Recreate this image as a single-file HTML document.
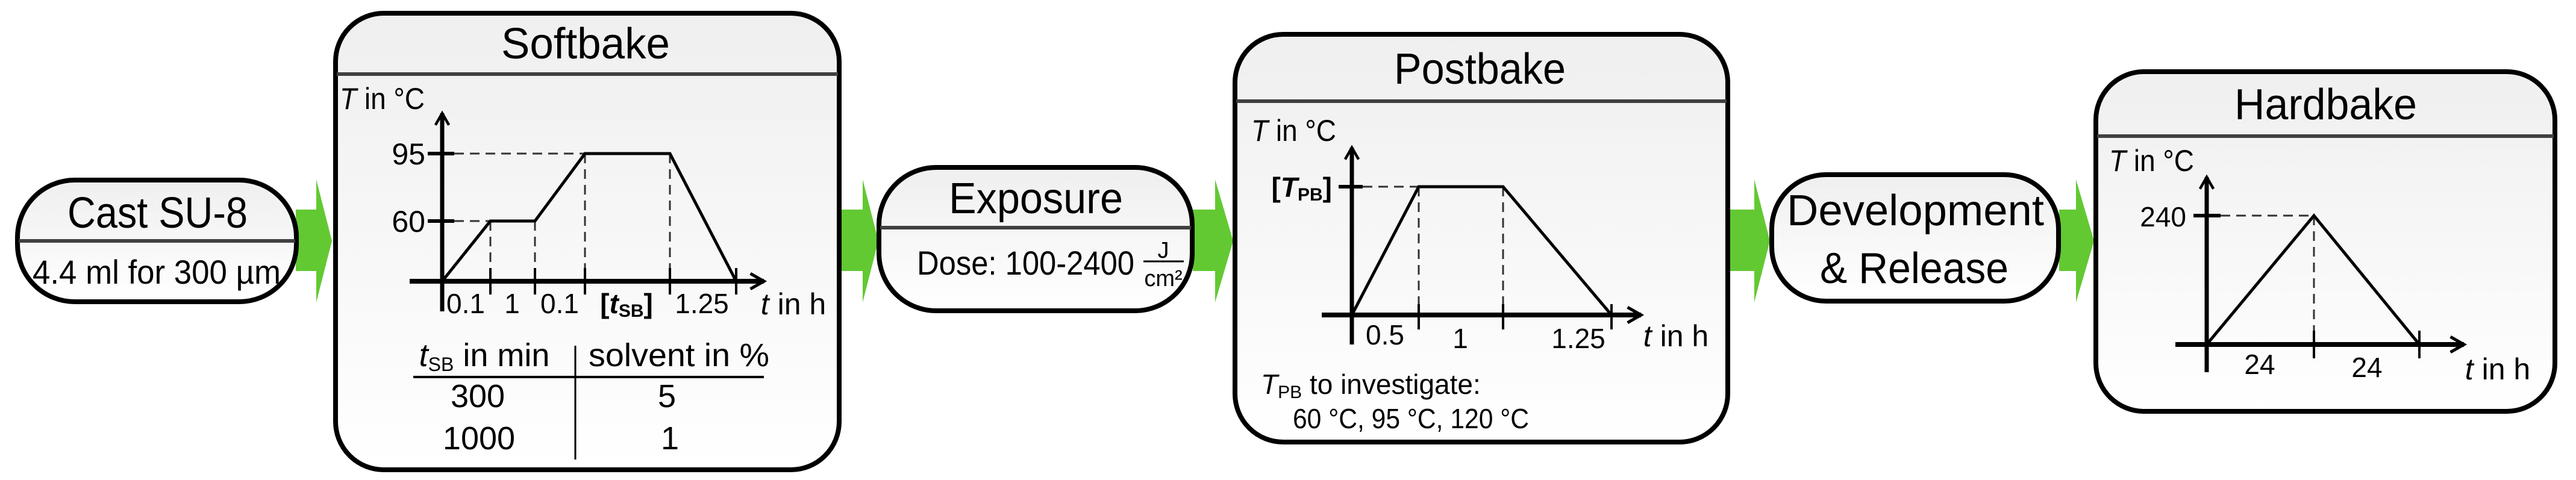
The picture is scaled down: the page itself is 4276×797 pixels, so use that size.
<!DOCTYPE html>
<html><head><meta charset="utf-8"><style>
html,body{margin:0;padding:0;background:#fff;}
svg{display:block;}
text{font-family:"Liberation Sans",sans-serif;fill:#000;}
</style></head><body>
<svg width="4276" height="797" viewBox="0 0 4276 797" xmlns="http://www.w3.org/2000/svg">
<defs>
<linearGradient id="g" x1="0" y1="0" x2="0" y2="1"><stop offset="0" stop-color="#efefef"/><stop offset="1" stop-color="#ffffff"/></linearGradient>
<marker id="ah" viewBox="0 0 10 10" refX="8" refY="5" markerWidth="4" markerHeight="4" orient="auto" markerUnits="strokeWidth"><path d="M1,1 L8,5 L1,9" fill="none" stroke="#000" stroke-width="1.6"/></marker>
</defs>
<g fill="#62c932">
<path d="M491,348 H525 V298 L551,400 L525,502 V450 H491Z"/>
<path d="M1390,348 H1432 V298 L1458,400 L1432,502 V450 H1390Z"/>
<path d="M1980,348 H2017 V298 L2047,400 L2017,502 V450 H1980Z"/>
<path d="M2868,348 H2912 V298 L2938,400 L2912,502 V450 H2868Z"/>
<path d="M3418,348 H3446 V298 L3476,400 L3446,502 V450 H3418Z"/>
</g>
<g stroke="#000" stroke-width="8" fill="url(#g)">
<rect x="29" y="299" width="463" height="202" rx="95" ry="95"/>
<rect x="557" y="22" width="836" height="758" rx="80" ry="80"/>
<rect x="1459" y="278" width="520" height="238" rx="95" ry="95"/>
<rect x="2050" y="57" width="818" height="677" rx="80" ry="80"/>
<rect x="2941" y="290" width="476" height="210" rx="90" ry="90"/>
<rect x="3479" y="119" width="762" height="564" rx="80" ry="80"/>
</g>
<g stroke="#404040" stroke-width="6">
<line x1="31" y1="400" x2="490" y2="400"/>
<line x1="559" y1="123" x2="1391" y2="123"/>
<line x1="1461" y1="378" x2="1977" y2="378"/>
<line x1="2052" y1="168" x2="2866" y2="168"/>
<line x1="3481" y1="226" x2="4239" y2="226"/>
</g>
<!-- titles -->
<g font-size="72" text-anchor="start">
<text x="112" y="378" textLength="299" lengthAdjust="spacingAndGlyphs">Cast SU-8</text>
<text x="832" y="97" textLength="280" lengthAdjust="spacingAndGlyphs">Softbake</text>
<text x="1575" y="354" textLength="289" lengthAdjust="spacingAndGlyphs">Exposure</text>
<text x="2314" y="139" textLength="285" lengthAdjust="spacingAndGlyphs">Postbake</text>
<text x="2966" y="374" textLength="427" lengthAdjust="spacingAndGlyphs">Development</text>
<text x="3021" y="470" textLength="313" lengthAdjust="spacingAndGlyphs">&amp; Release</text>
<text x="3709" y="198" textLength="303" lengthAdjust="spacingAndGlyphs">Hardbake</text>
</g>
<text x="54" y="471" font-size="56" textLength="412" lengthAdjust="spacingAndGlyphs">4.4 ml for 300 µm</text>
<text x="1522" y="456" font-size="56" textLength="361" lengthAdjust="spacingAndGlyphs">Dose: 100-2400</text>
<line x1="1898" y1="434" x2="1965" y2="434" stroke="#000" stroke-width="3"/>
<text x="1931" y="428" font-size="38" text-anchor="middle">J</text>
<text x="1931" y="475" font-size="38" text-anchor="middle">cm²</text>

<!-- Softbake chart -->
<g font-size="50">
<text x="564" y="181" textLength="141" lengthAdjust="spacingAndGlyphs"><tspan font-style="italic">T</tspan> in °C</text>
<text x="706" y="273" text-anchor="end">95</text>
<text x="706" y="385" text-anchor="end">60</text>
<text x="773" y="520" text-anchor="middle" font-size="46">0.1</text>
<text x="850" y="520" text-anchor="middle" font-size="46">1</text>
<text x="929" y="520" text-anchor="middle" font-size="46">0.1</text>
<text x="1040" y="520" text-anchor="middle" font-size="46" font-weight="bold">[<tspan font-style="italic">t</tspan><tspan font-size="30" dy="6">SB</tspan><tspan dy="-6">]</tspan></text>
<text x="1165" y="520" text-anchor="middle" font-size="46">1.25</text>
<text x="1317" y="522" text-anchor="middle"><tspan font-style="italic">t</tspan> in h</text>
<text x="804" y="608" text-anchor="middle" font-size="54"><tspan font-style="italic">t</tspan><tspan font-size="32" dy="8">SB</tspan><tspan dy="-8"> in min</tspan></text>
<text x="1127" y="608" text-anchor="middle" font-size="54" textLength="300" lengthAdjust="spacingAndGlyphs">solvent in %</text>
<text x="793" y="676" text-anchor="middle" font-size="54">300</text>
<text x="1107" y="676" text-anchor="middle" font-size="54">5</text>
<text x="795" y="746" text-anchor="middle" font-size="54">1000</text>
<text x="1112" y="746" text-anchor="middle" font-size="54">1</text>
</g>
<g stroke="#000" fill="none">
<line x1="734" y1="517" x2="734" y2="188" stroke-width="7" marker-end="url(#ah)"/>
<line x1="680" y1="467" x2="1268" y2="467" stroke-width="8" marker-end="url(#ah)"/>
<line x1="710" y1="255" x2="754" y2="255" stroke-width="6"/>
<line x1="710" y1="367" x2="754" y2="367" stroke-width="6"/>
<g stroke-width="3" stroke-dasharray="16,10" stroke="#333">
<line x1="754" y1="255" x2="971" y2="255"/><line x1="754" y1="367" x2="814" y2="367"/>
<line x1="814" y1="367" x2="814" y2="467"/><line x1="888" y1="367" x2="888" y2="467"/>
<line x1="971" y1="255" x2="971" y2="467"/><line x1="1112" y1="255" x2="1112" y2="467"/>
</g>
<g stroke-width="4">
<line x1="814" y1="445" x2="814" y2="489"/><line x1="888" y1="445" x2="888" y2="489"/>
<line x1="971" y1="445" x2="971" y2="489"/><line x1="1112" y1="445" x2="1112" y2="489"/>
<line x1="1222" y1="445" x2="1222" y2="489"/>
</g>
<polyline points="734,467 814,367 888,367 971,255 1112,255 1222,467" stroke-width="5"/>
<line x1="686" y1="626" x2="1268" y2="626" stroke-width="4"/>
<line x1="955" y1="574" x2="955" y2="763" stroke-width="3"/>
</g>

<!-- Postbake chart -->
<g font-size="50">
<text x="2077" y="234" textLength="141" lengthAdjust="spacingAndGlyphs"><tspan font-style="italic">T</tspan> in °C</text>
<text x="2211" y="327" text-anchor="end" font-size="46" font-weight="bold">[<tspan font-style="italic">T</tspan><tspan font-size="30" dy="6">PB</tspan><tspan dy="-6">]</tspan></text>
<text x="2299" y="572" text-anchor="middle" font-size="46">0.5</text>
<text x="2424" y="578" text-anchor="middle" font-size="46">1</text>
<text x="2620" y="578" text-anchor="middle" font-size="46">1.25</text>
<text x="2782" y="575" text-anchor="middle"><tspan font-style="italic">t</tspan> in h</text>
<text x="2093" y="654" font-size="46"><tspan font-style="italic">T</tspan><tspan font-size="30" dy="7">PB</tspan><tspan dy="-7"> to investigate:</tspan></text>
<text x="2146" y="711" font-size="46" textLength="392" lengthAdjust="spacingAndGlyphs">60 °C, 95 °C, 120 °C</text>
</g>
<g stroke="#000" fill="none">
<line x1="2244" y1="572" x2="2244" y2="245" stroke-width="7" marker-end="url(#ah)"/>
<line x1="2194" y1="523" x2="2724" y2="523" stroke-width="8" marker-end="url(#ah)"/>
<line x1="2222" y1="310" x2="2262" y2="310" stroke-width="6"/>
<g stroke-width="3" stroke-dasharray="16,10" stroke="#333">
<line x1="2262" y1="310" x2="2355" y2="310"/>
<line x1="2355" y1="310" x2="2355" y2="523"/><line x1="2495" y1="310" x2="2495" y2="523"/>
</g>
<g stroke-width="4">
<line x1="2355" y1="505" x2="2355" y2="547"/><line x1="2495" y1="505" x2="2495" y2="547"/>
<line x1="2675" y1="505" x2="2675" y2="547"/>
</g>
<polyline points="2244,523 2355,310 2495,310 2675,523" stroke-width="5"/>
</g>

<!-- Hardbake chart -->
<g font-size="50">
<text x="3501" y="284" textLength="141" lengthAdjust="spacingAndGlyphs"><tspan font-style="italic">T</tspan> in °C</text>
<text x="3629" y="376" text-anchor="end" font-size="46">240</text>
<text x="3751" y="621" text-anchor="middle" font-size="46">24</text>
<text x="3929" y="626" text-anchor="middle" font-size="46">24</text>
<text x="4146" y="630" text-anchor="middle"><tspan font-style="italic">t</tspan> in h</text>
</g>
<g stroke="#000" fill="none">
<line x1="3663" y1="618" x2="3663" y2="294" stroke-width="7" marker-end="url(#ah)"/>
<line x1="3611" y1="572" x2="4090" y2="572" stroke-width="8" marker-end="url(#ah)"/>
<line x1="3641" y1="358" x2="3686" y2="358" stroke-width="6"/>
<g stroke-width="3" stroke-dasharray="16,10" stroke="#333">
<line x1="3686" y1="358" x2="3841" y2="358"/>
<line x1="3841" y1="358" x2="3841" y2="572"/>
</g>
<g stroke-width="4">
<line x1="3841" y1="549" x2="3841" y2="595"/><line x1="4016" y1="549" x2="4016" y2="595"/>
</g>
<polyline points="3663,572 3841,358 4016,572" stroke-width="5"/>
</g>
</svg>
</body></html>
